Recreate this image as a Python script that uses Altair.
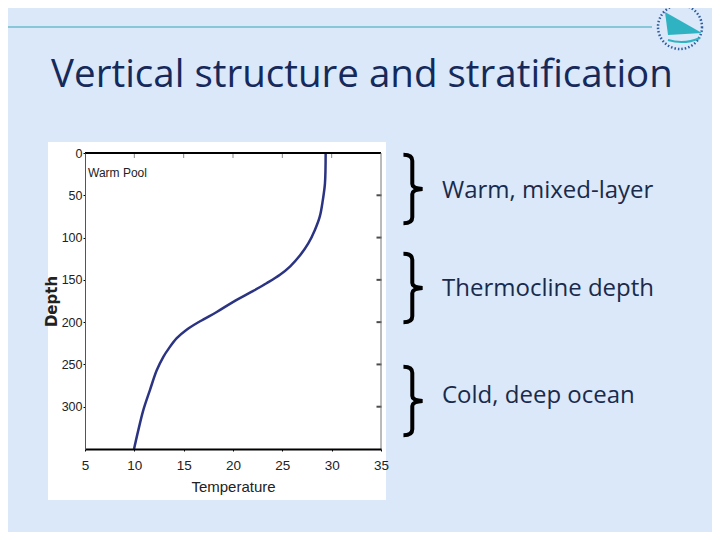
import altair as alt
import pandas as pd

# Temperature profile (Warm Pool)
depth = [0, 36, 56, 75, 91, 107, 121, 134, 144, 154, 163, 176, 188, 199, 209, 219, 231, 241, 257, 280, 304, 328, 350]
temp = [29.39, 29.32, 29.1, 28.8, 28.3, 27.63, 26.8, 25.8, 24.76, 23.4, 22.06, 20.03, 18.35, 16.66, 15.3,
        14.3, 13.5, 12.94, 12.27, 11.59, 10.91, 10.4, 9.97]

x_ticks = [5, 10, 15, 20, 25, 30, 35]
y_ticks = [0, 50, 100, 150, 200, 250, 300]

title_text = "Vertical structure and stratification"
panel_label = "Warm Pool"
layer_labels = ["Warm, mixed-layer", "Thermocline depth", "Cold, deep ocean"]

BG = "#dae8f9"
TXT = "#1a2a4a"
AXF = "Liberation Sans"
one = pd.DataFrame({"a": [0]})

prof = pd.DataFrame({"depth": depth, "temp": temp})
xs = alt.Scale(domain=[5, 35], nice=False, zero=False)
ys = alt.Scale(domain=[0, 350], nice=False, reverse=True)
x_axis = alt.Axis(values=x_ticks, grid=False, zindex=1, domainColor="black", domainWidth=2,
                  tickColor="black", tickSize=2, labelFontSize=13.5, labelColor="#222",
                  labelFont=AXF, titleFont=AXF,
                  titleFontSize=15, titleFontWeight="normal", titleColor="#222",
                  labelPadding=7, titlePadding=8, labelFlush=False)
y_axis = alt.Axis(values=y_ticks, grid=False, zindex=1, domainColor="#555", domainWidth=1,
                  tickColor="black", tickSize=2, labelFontSize=12.5, labelColor="#222",
                  labelFont=AXF, titleFont="DejaVu Sans",
                  titleFontSize=15, titleFontWeight="bold", titleColor="#222",
                  labelPadding=1, titleX=-26, labelFlush=False)

# white panel behind plot
panel = alt.Chart(one).mark_rect(color="white").encode(
    x=alt.value(-37), x2=alt.value(301), y=alt.value(-11), y2=alt.value(347)
)

line = alt.Chart(prof).mark_line(color="#2b3482", strokeWidth=2.5, interpolate="catmull-rom").encode(
    x=alt.X("temp:Q", title="Temperature", scale=xs, axis=x_axis),
    y=alt.Y("depth:Q", title="Depth", scale=ys, axis=y_axis),
    order="depth:Q",
)

top_ticks = alt.Chart(pd.DataFrame({"temp": x_ticks[1:-1]})).mark_tick(
    color="#555", thickness=1, size=6
).encode(x=alt.X("temp:Q", title="Temperature", scale=xs, axis=x_axis), y=alt.value(2))
right_ticks = alt.Chart(pd.DataFrame({"depth": y_ticks[1:]})).mark_tick(
    color="black", thickness=2, size=5
).encode(y=alt.Y("depth:Q", title="Depth", scale=ys, axis=y_axis), x=alt.value(294))

topline = alt.Chart(one).mark_rule(color="black", strokeWidth=2).encode(
    x=alt.value(0), x2=alt.value(296), y=alt.value(0)
)
rightline = alt.Chart(one).mark_rule(color="#777", strokeWidth=1).encode(
    x=alt.value(296), y=alt.value(0), y2=alt.value(296)
)

warm = alt.Chart(pd.DataFrame({"t": [panel_label]})).mark_text(
    align="left", baseline="middle", font=AXF, fontSize=12, color="#222"
).encode(x=alt.value(3), y=alt.value(20), text="t:N")

title = alt.Chart(pd.DataFrame({"t": [title_text]})).mark_text(
    align="center", baseline="alphabetic", font="Open Sans", fontSize=38.5, color="#15295a"
).encode(x=alt.value(277), y=alt.value(-66), text="t:N")

hline = alt.Chart(one).mark_rule(color="#6cbccb", strokeWidth=1.5).encode(
    x=alt.value(-85), x2=alt.value(567), y=alt.value(-126)
)

logo_circle = alt.Chart(one).mark_point(
    shape="circle", size=1936, stroke="#2f5d9e", strokeWidth=2.5, strokeDash=[1.5, 2], filled=False, opacity=1
).encode(x=alt.value(595), y=alt.value(-126))
logo_sail = alt.Chart(one).mark_point(
    shape="M -0.65 -0.7 L 1.2 0.35 L -0.5 0.45 Z", size=1600, filled=True, color="#2fb3c2", opacity=1
).encode(x=alt.value(593), y=alt.value(-127))
logo_hull = alt.Chart(one).mark_point(
    shape="M -0.5 0.7 Q 0.3 0.95 1.1 0.6", size=1600, filled=False, stroke="#2fb3c2", strokeWidth=2, opacity=1
).encode(x=alt.value(593), y=alt.value(-127))

brace_path = ("M -0.27 -0.97 Q -0.02 -0.97 -0.02 -0.8 L -0.02 -0.14 Q -0.02 -0.02 0.27 0 "
              "Q -0.02 0.02 -0.02 0.14 L -0.02 0.8 Q -0.02 0.97 -0.27 0.97")
brace_y = [36, 135, 248]
label_y = [38, 136, 243]
layers = [panel, line, top_ticks, right_ticks, topline, rightline, warm, title, hline,
          logo_circle, logo_sail, logo_hull]
for by, ly, lab in zip(brace_y, label_y, layer_labels):
    layers.append(alt.Chart(one).mark_point(
        shape=brace_path, size=5000, filled=False, stroke="black", strokeWidth=4, opacity=1
    ).encode(x=alt.value(328), y=alt.value(by)))
    layers.append(alt.Chart(pd.DataFrame({"t": [lab]})).mark_text(
        align="left", baseline="middle", font="Open Sans", fontSize=24, color=TXT
    ).encode(x=alt.value(357), y=alt.value(ly), text="t:N"))

chart = alt.layer(*layers).properties(
    width=296, height=296,
    autosize=alt.AutoSizeParams(type="none"),
    padding={"left": 77, "top": 145, "right": 331, "bottom": 83},
    background=BG,
).configure_view(stroke=None)

chart.save("out.html", embed_options={"renderer": "svg", "actions": False})
